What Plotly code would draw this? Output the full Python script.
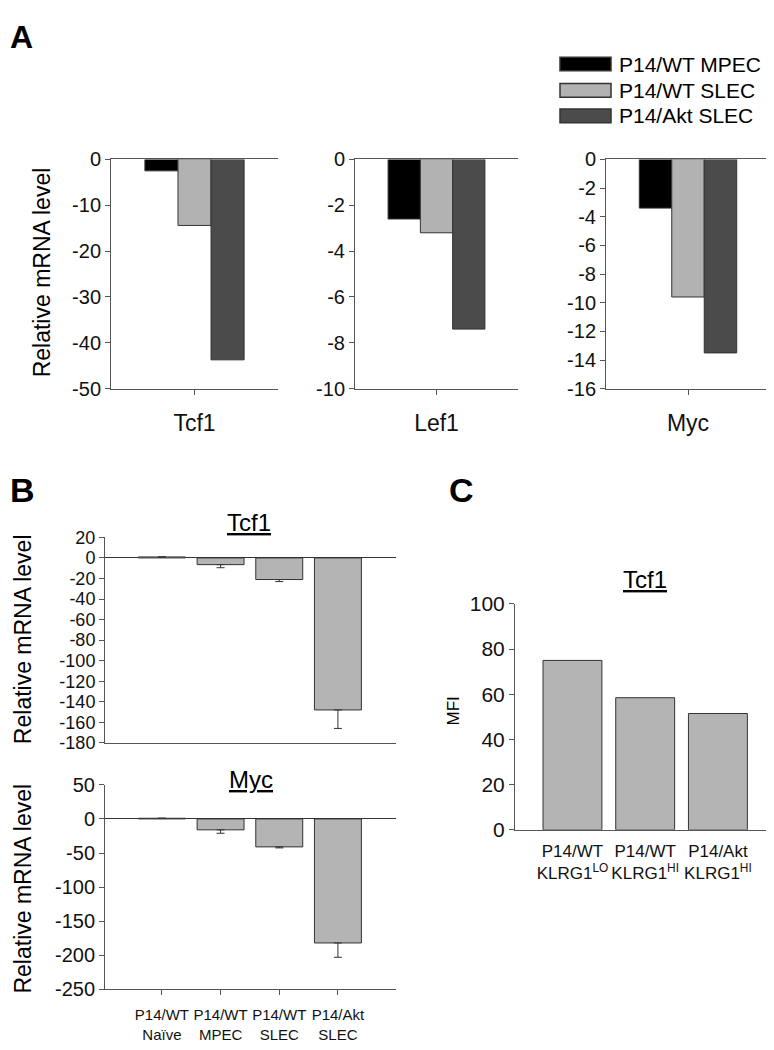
import plotly.graph_objects as go

# panel A: fold change vs naive, one group of bars per gene
genes_a = ["Tcf1", "Lef1", "Myc"]
series_a = ["P14/WT MPEC", "P14/WT SLEC", "P14/Akt SLEC"]
wt_mpec = [-2.5, -2.6, -3.4]
wt_slec = [-14.4, -3.2, -9.6]
akt_slec = [-43.7, -7.4, -13.5]
ranges_a = [(-50, 0, 10), (-10, 0, 2), (-16, 0, 2)]

# panel B: qPCR with SEM (only drawn downward)
groups_b = ["P14/WT<br>Naïve", "P14/WT<br>MPEC", "P14/WT<br>SLEC", "P14/Akt<br>SLEC"]
tcf1_b = [1, -6.5, -21, -148]
tcf1_b_err = [0, 3, 2, 18]
myc_b = [1, -16, -41, -182]
myc_b_err = [0, 5, 1.5, 21]

# panel C: Tcf1 MFI
groups_c = ["P14/WT<br>KLRG1<sup>LO</sup>", "P14/WT<br>KLRG1<sup>HI</sup>", "P14/Akt<br>KLRG1<sup>HI</sup>"]
mfi_c = [75, 58.5, 51.5]

colors_a = ["#000000", "#b2b2b2", "#4b4b4b"]
bar_gray = "#b4b4b4"
edge = "#333333"
axis_col = "#555555"
FONT = "Liberation Sans, Arial, sans-serif"

W, H = 774, 1050


def fx(px):
    return px / W


def fy(px):
    return 1 - px / H


def yticks(lo, hi, step):
    # plain hyphen minus like the original figure
    vals = list(range(lo, hi + 1, step))
    return dict(tickvals=vals, ticktext=[str(v) for v in vals])


fig = go.Figure()

# ---- A ----
a_xdom = [(103, 270), (347, 510), (598, 762)]
a_ydom = (142.5, 377)
offsets = [-0.297, -0.099, 0.099]
for gi, gene in enumerate(genes_a):
    n = gi + 1
    sfx = str(n) if n > 1 else ""
    for si, vals in enumerate([wt_mpec, wt_slec, akt_slec]):
        fig.add_trace(go.Bar(
            x=[gene], y=[vals[gi]], name=series_a[si],
            width=0.198, offset=offsets[si],
            marker=dict(color=colors_a[si], line=dict(color=edge, width=1)),
            xaxis=f"x{sfx}", yaxis=f"y{sfx}", showlegend=False,
        ))
    lo, hi, dt = ranges_a[gi]
    fig.layout[f"xaxis{sfx}"] = dict(
        domain=[fx(a_xdom[gi][0]), fx(a_xdom[gi][1])], anchor=f"y{sfx}",
        range=[-0.5, 0.5], type="category", showline=True, mirror=True,
        linecolor=axis_col, linewidth=1, ticks="outside", ticklen=5,
        tickcolor=axis_col, tickfont=dict(size=23, color="#111"),
        tickangle=0, ticklabelstandoff=9, showgrid=False,
    )
    fig.layout[f"yaxis{sfx}"] = dict(
        domain=[fy(a_ydom[1]), fy(a_ydom[0])], anchor=f"x{sfx}",
        range=[lo, hi], showline=True, linecolor=axis_col,
        linewidth=1, ticks="outside", ticklen=5, tickcolor=axis_col,
        tickfont=dict(size=20, color="#111"), showgrid=False, zeroline=False,
        **yticks(lo, hi, dt),
    )

# ---- B ----
b_xdom = (97, 388)
b_panels = [
    (tcf1_b, tcf1_b_err, (529, 739), (-180, 20, 20), False, 18),
    (myc_b, myc_b_err, (782, 991), (-250, 50, 50), True, 20),
]
for bi, (vals, err, ydom, (lo, hi, dt), bottom, fsize) in enumerate(b_panels):
    n = 4 + bi
    fig.add_trace(go.Bar(
        x=groups_b, y=vals, width=0.8,
        marker=dict(color=bar_gray, line=dict(color=edge, width=1)),
        error_y=dict(type="data", symmetric=False, array=[0] * len(err),
                     arrayminus=err, color=edge, thickness=1, width=4),
        xaxis=f"x{n}", yaxis=f"y{n}", showlegend=False,
    ))
    fig.layout[f"xaxis{n}"] = dict(
        domain=[fx(b_xdom[0]), fx(b_xdom[1])], anchor=f"y{n}",
        type="category", range=[-0.97, 3.99], showline=True,
        linecolor=axis_col, linewidth=1,
        ticks="outside" if bottom else "", ticklen=5, tickcolor=axis_col,
        showticklabels=bottom, tickfont=dict(size=15, color="#111"),
        tickangle=0, ticklabelstandoff=7, showgrid=False,
    )
    fig.layout[f"yaxis{n}"] = dict(
        domain=[fy(ydom[1]), fy(ydom[0])], anchor=f"x{n}",
        range=[lo, hi], showline=True, linecolor=axis_col,
        linewidth=1, ticks="outside", ticklen=5, tickcolor=axis_col,
        tickfont=dict(size=fsize, color="#111"), showgrid=False,
        zeroline=True, zerolinecolor=edge, zerolinewidth=1,
        **yticks(lo, hi, dt),
    )

# ---- C ----
fig.add_trace(go.Bar(
    x=groups_c, y=mfi_c, width=0.81,
    marker=dict(color=bar_gray, line=dict(color=edge, width=1)),
    xaxis="x6", yaxis="y6", showlegend=False,
))
fig.layout["xaxis6"] = dict(
    domain=[fx(507), fx(763)], anchor="y6", type="category",
    range=[-0.79, 2.73], showline=True, linecolor=axis_col, linewidth=1,
    ticks="", tickfont=dict(size=17, color="#111"), tickangle=0,
    ticklabelstandoff=6, showgrid=False,
)
fig.layout["yaxis6"] = dict(
    domain=[fy(828), fy(597)], anchor="x6", range=[0, 100], dtick=20,
    showline=True, linecolor=axis_col, linewidth=1, ticks="outside",
    ticklen=5, tickcolor=axis_col, tickfont=dict(size=21, color="#111"),
    showgrid=False, zeroline=False,
)

# ---- text ----
ann = []


def label(text, x, y, size, angle=0, bold=False, xanchor="center"):
    ann.append(dict(
        text=f"<b>{text}</b>" if bold else text, x=fx(x), y=fy(y),
        xref="paper", yref="paper", xanchor=xanchor, yanchor="middle",
        showarrow=False, textangle=angle,
        font=dict(size=size, color="#000", family=FONT),
    ))


label("A", 0, 17, 32, bold=True, xanchor="left")
label("B", 0, 481, 34, bold=True, xanchor="left")
label("C", 439, 481, 34, bold=True, xanchor="left")
label("Relative mRNA level", 34, 258, 23, angle=-90)
label("Relative mRNA level", 15, 633, 23, angle=-90)
label("Relative mRNA level", 15, 888, 23, angle=-90)
label("MFI", 446, 707, 17, angle=-90)
label("<u>Tcf1</u>", 241, 514, 24)
label("<u>Myc</u>", 243, 776, 24)
label("<u>Tcf1</u>", 637, 572, 24)

# custom legend for panel A
shapes = []
rows = [45, 72, 98]
for name, col, yc in zip(series_a, colors_a, rows):
    shapes.append(dict(
        type="rect", xref="paper", yref="paper",
        x0=fx(552), x1=fx(603), y0=fy(yc + 7), y1=fy(yc - 7),
        fillcolor=col, line=dict(color=edge, width=1.5),
    ))
    label(name, 609, yc, 21, xanchor="left")

fig.update_layout(
    width=W, height=H, margin=dict(l=0, r=0, t=0, b=0),
    paper_bgcolor="white", plot_bgcolor="white",
    barmode="overlay", font=dict(family=FONT, color="#111"),
    annotations=ann, shapes=shapes, showlegend=False,
)

fig.write_html("out.html")
